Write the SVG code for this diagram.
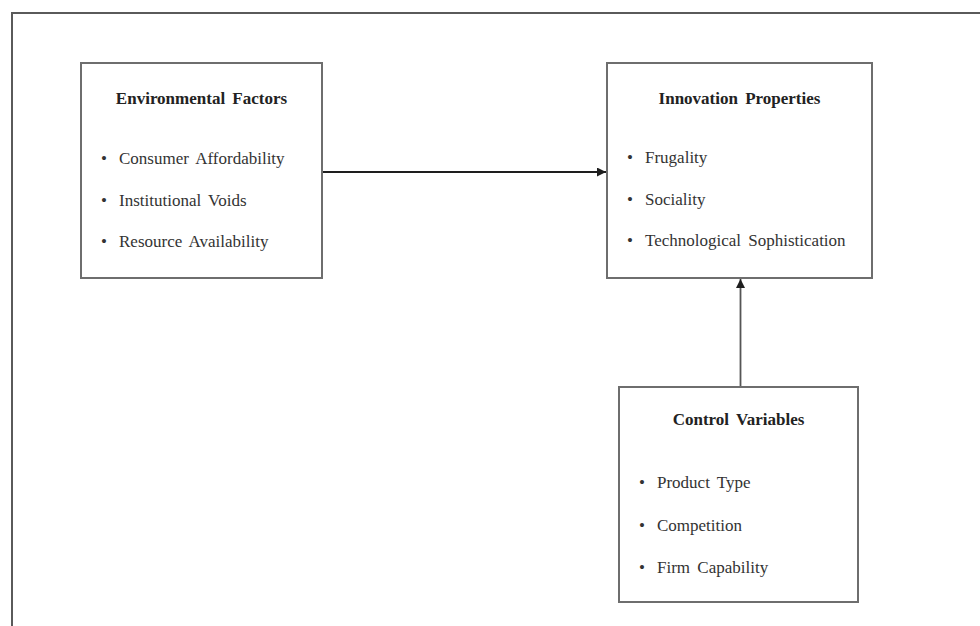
<svg xmlns="http://www.w3.org/2000/svg" width="980" height="626" viewBox="0 0 980 626">
<defs>
<style>
.box{fill:#fff;stroke:#6e6e6e;stroke-width:2}
.title{font-family:"Liberation Serif","Times New Roman",serif;font-size:17px;font-weight:bold;fill:#222;text-anchor:middle;word-spacing:3px}
.item{font-family:"Liberation Serif","Times New Roman",serif;font-size:17px;fill:#333;word-spacing:3px}
.frame{stroke:#5a5a5a;stroke-width:2;fill:none}
.conn{stroke:#1e1e1e;stroke-width:1.8;fill:none}
</style>
<marker id="ah" viewBox="0 0 10 10" refX="10" refY="5" markerWidth="5" markerHeight="5" orient="auto" markerUnits="strokeWidth">
<path d="M0,0 L10,5 L0,10 z" fill="#1e1e1e"/>
</marker>
</defs>
<rect width="980" height="626" fill="#fff"/>
<path class="frame" d="M12,626 V13 H980"/>
<g id="env">
<rect class="box" x="81" y="63" width="241" height="215"/>
<text class="title" x="201.5" y="104">Environmental Factors</text>
<text class="item" x="101" y="164">•</text><text class="item" x="119" y="164">Consumer Affordability</text>
<text class="item" x="101" y="206">•</text><text class="item" x="119" y="206">Institutional Voids</text>
<text class="item" x="101" y="247">•</text><text class="item" x="119" y="247">Resource Availability</text>
</g>
<g id="innov">
<rect class="box" x="607" y="63" width="265" height="215"/>
<text class="title" x="739.5" y="104">Innovation Properties</text>
<text class="item" x="627" y="163">•</text><text class="item" x="645" y="163">Frugality</text>
<text class="item" x="627" y="205">•</text><text class="item" x="645" y="205">Sociality</text>
<text class="item" x="627" y="246">•</text><text class="item" x="645" y="246">Technological Sophistication</text>
</g>
<g id="ctrl">
<rect class="box" x="619" y="387" width="239" height="215"/>
<text class="title" x="738.5" y="425">Control Variables</text>
<text class="item" x="639" y="488">•</text><text class="item" x="657" y="488">Product Type</text>
<text class="item" x="639" y="531">•</text><text class="item" x="657" y="531">Competition</text>
<text class="item" x="639" y="573">•</text><text class="item" x="657" y="573">Firm Capability</text>
</g>
<g id="connectors">
<line class="conn" x1="323" y1="172" x2="606" y2="172" marker-end="url(#ah)"/>
<line class="conn" x1="740.5" y1="386" x2="740.5" y2="279" marker-end="url(#ah)" style="stroke:#555"/>
</g>
</svg>
